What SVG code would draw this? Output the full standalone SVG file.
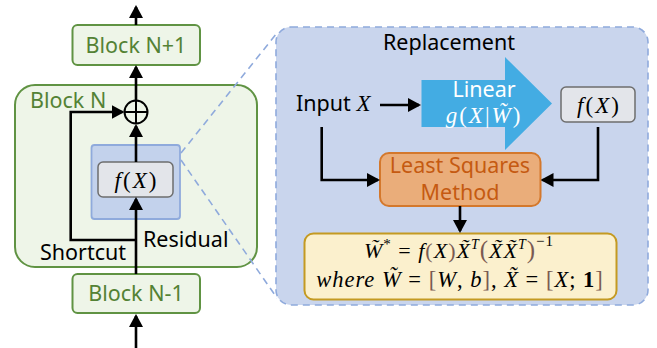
<svg xmlns="http://www.w3.org/2000/svg" width="657" height="348" viewBox="0 0 657 348">
<defs>
<marker id="ah" viewBox="0 0 13 14" refX="11" refY="7" markerWidth="13" markerHeight="14" markerUnits="userSpaceOnUse" orient="auto">
<path d="M0,0 L13,7 L0,14 z" fill="#000"/>
</marker>
<style>
.sans{font-family:"Noto Sans","Open Sans","Liberation Sans",sans-serif;font-size:21.5px}
.green{fill:#548235}
.blk{fill:#000}
.math{font-family:"Liberation Serif","DejaVu Serif",serif;font-style:italic;font-size:21px}
.up{font-style:normal}
.br{fill:#7a5a52;font-style:normal}
.gbox{fill:#eef5e8;stroke:#609343;stroke-width:2}
.conn{fill:none;stroke:#000;stroke-width:2.6;marker-end:url(#ah)}
.dash{fill:none;stroke:#8faadc;stroke-width:1.6;stroke-dasharray:7 5}
.fx{font-size:23px;letter-spacing:2px}
</style>
</defs>
<rect width="657" height="348" fill="#fff"/>

<g id="blockN">
<rect class="gbox" x="15" y="85" width="242" height="182" rx="20"/>
<text class="sans green" x="30" y="108">Block N</text>
</g>

<g id="residualBox">
<rect x="91.5" y="145" width="88.5" height="74" rx="3" fill="#c3d2ec" stroke="#8faadc" stroke-width="1.8"/>
</g>

<g id="fx-left">
<rect x="98" y="162" width="75" height="35" rx="5" fill="#e3e5ea" stroke="#6e6e6e" stroke-width="1.5"/>
<text class="math fx" x="136.5" y="187.5" text-anchor="middle">f<tspan class="up">(</tspan>X<tspan class="up">)</tspan></text>
</g>

<g id="blockN1">
<rect class="gbox" x="72.5" y="25" width="127.5" height="40" rx="5"/>
<text class="sans green" x="136" y="52.5" text-anchor="middle">Block N+1</text>
</g>

<g id="blockNm1">
<rect class="gbox" x="72.5" y="274" width="127.5" height="39" rx="5"/>
<text class="sans green" x="136" y="301" text-anchor="middle">Block N-1</text>
</g>

<g id="sum">
<circle cx="136" cy="112" r="11.5" fill="none" stroke="#000" stroke-width="2"/>
<line x1="124.5" y1="112" x2="147.5" y2="112" stroke="#000" stroke-width="2"/>
<line x1="136" y1="100.5" x2="136" y2="123.5" stroke="#000" stroke-width="2"/>
</g>

<g id="labels-left">
<text class="sans blk" x="143" y="247">Residual</text>
<text class="sans blk" x="40" y="260">Shortcut</text>
</g>

<g id="dashed-zoom">
<line class="dash" x1="181" y1="153" x2="277" y2="33"/>
<line class="dash" x1="181" y1="160" x2="277" y2="298"/>
</g>

<g id="replacement">
<rect x="276" y="27" width="372" height="278" rx="15" fill="#c9d5ed" stroke="#8faadc" stroke-width="1.6" stroke-dasharray="7 5"/>
<text class="sans blk" x="449" y="50" text-anchor="middle">Replacement</text>
</g>

<g id="input">
<text x="296" y="111" class="sans blk">Input <tspan class="math" style="font-size:23px">X</tspan></text>
</g>

<g id="linear">
<path d="M421.5,80 H505 V57 L552,103.5 L505,150 V127 H421.5 z" fill="#43ace3"/>
<text class="sans" x="484" y="96.5" text-anchor="middle" fill="#fff">Linear</text>
<text class="math fx" x="484" y="123" text-anchor="middle" fill="#fff">g<tspan class="up">(</tspan>X<tspan class="up">|</tspan>W&#x303;<tspan class="up">)</tspan></text>
</g>

<g id="fx-right">
<rect x="561" y="87" width="74" height="35" rx="5" fill="#e3e5ea" stroke="#6e6e6e" stroke-width="1.5"/>
<text class="math fx" x="599" y="112.5" text-anchor="middle">f<tspan class="up">(</tspan>X<tspan class="up">)</tspan></text>
</g>

<g id="lsm">
<rect x="380" y="153" width="160.5" height="53" rx="9" fill="#eaad7a" stroke="#d4782c" stroke-width="2"/>
<text class="sans" x="460" y="173" text-anchor="middle" fill="#c55a11">Least Squares</text>
<text class="sans" x="460" y="199.5" text-anchor="middle" fill="#c55a11">Method</text>
</g>

<g id="formula">
<rect x="304.5" y="233.5" width="312" height="66" rx="9" fill="#fbf0cd" stroke="#c49a22" stroke-width="2"/>
<text class="math" x="459" y="258" text-anchor="middle" style="font-size:22px;letter-spacing:1px">W&#x303;<tspan dy="-9" font-size="15" class="up">*</tspan><tspan dy="9" class="up"> = </tspan>f<tspan class="br">(</tspan>X<tspan class="br">)</tspan>X&#x303;<tspan dy="-9" font-size="14">T</tspan><tspan dy="9" class="br" font-size="25">(</tspan>X&#x303;X&#x303;<tspan dy="-9" font-size="14">T</tspan><tspan dy="9" class="br" font-size="25">)</tspan><tspan dy="-12" font-size="15" class="up">−1</tspan></text>
<text class="math" x="460" y="287" text-anchor="middle" style="font-size:22.5px;letter-spacing:1px">where W&#x303;<tspan class="up"> = </tspan><tspan class="br">[</tspan>W<tspan class="up">, </tspan>b<tspan class="br">]</tspan><tspan class="up">, </tspan>X&#x303;<tspan class="up"> = </tspan><tspan class="br">[</tspan>X<tspan class="up">; </tspan><tspan class="up" font-weight="bold">1</tspan><tspan class="br">]</tspan></text>
</g>

<g id="connectors">
<line class="conn" x1="136" y1="25" x2="136" y2="7"/>
<line class="conn" x1="136" y1="100.5" x2="136" y2="67"/>
<line class="conn" x1="136" y1="162" x2="136" y2="126"/>
<path class="conn" d="M136,240 H70.7 V112 H122.5"/>
<line class="conn" x1="136" y1="274" x2="136" y2="199"/>
<line class="conn" x1="136" y1="348" x2="136" y2="316"/>
<line class="conn" x1="380" y1="105" x2="419" y2="105"/>
<path class="conn" d="M321.7,127 V180 H378"/>
<path class="conn" d="M598,127 V180 H542.5"/>
<line class="conn" x1="460" y1="206" x2="460" y2="231"/>
</g>
</svg>
